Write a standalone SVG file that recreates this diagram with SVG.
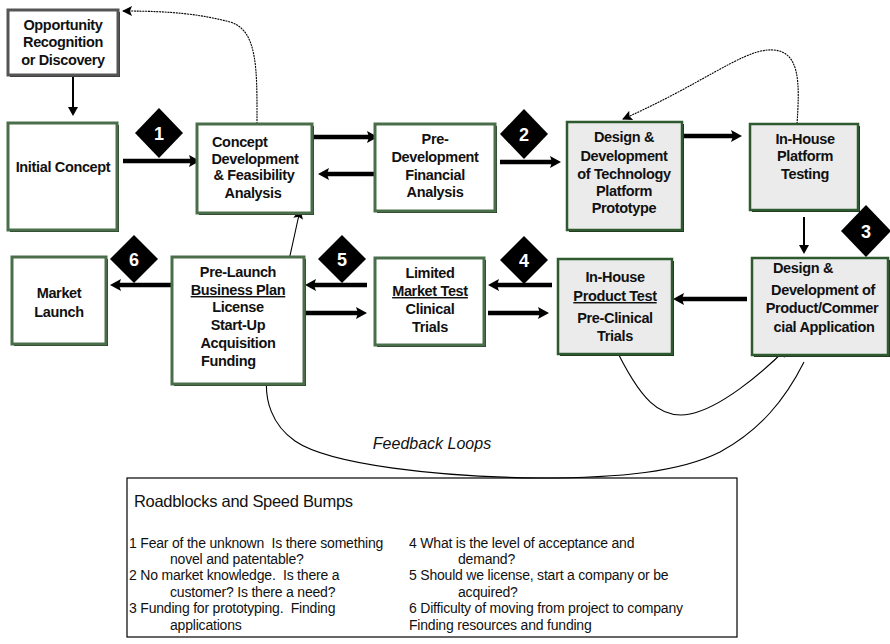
<svg xmlns="http://www.w3.org/2000/svg" width="890" height="644" viewBox="0 0 890 644">
<style>
.t{font-family:"Liberation Sans",Arial,sans-serif;font-weight:bold;font-size:14.5px;fill:#111;text-anchor:middle;letter-spacing:-0.35px}
.tl{text-anchor:start}
.u{text-decoration:underline}
.box{fill:#fff;stroke:#4a6e4a;stroke-width:3}
.gbox{fill:#ebebeb;stroke:#2f5a2f;stroke-width:2.5}
.sh{fill:#223322}
.dia{fill:#000}
.dn{font-family:"Liberation Sans",Arial,sans-serif;font-weight:bold;font-size:18px;fill:#fff;text-anchor:middle}
.thick{stroke:#000;stroke-width:4.5;fill:none;marker-end:url(#ah)}
.thin{stroke:#000;stroke-width:2;fill:none;marker-end:url(#as)}
.fb{stroke:#000;stroke-width:1.1;fill:none;marker-end:url(#af)}
.dot{stroke-dasharray:2 0.8}
.lg{font-family:"Liberation Sans",Arial,sans-serif;font-size:14px;fill:#111;letter-spacing:-0.2px;white-space:pre}
</style>
<defs>
<marker id="ah" markerUnits="userSpaceOnUse" markerWidth="14" markerHeight="14" refX="2" refY="7" orient="auto" overflow="visible">
<path d="M0,1 L11,7 L0,13 L2,7 z" fill="#000"/>
</marker>
<marker id="as" markerUnits="userSpaceOnUse" markerWidth="12" markerHeight="12" refX="2" refY="5" orient="auto" overflow="visible">
<path d="M0,0 L9,5 L0,10 z" fill="#000"/>
</marker>
<marker id="af" markerUnits="userSpaceOnUse" markerWidth="12" markerHeight="12" refX="9" refY="5" orient="auto" overflow="visible">
<path d="M0,0 L10,5 L0,10 L2,5 z" fill="#000"/>
</marker>
</defs>
<rect width="890" height="644" fill="#fff"/>

<g id="connectors">
<path class="thin" d="M73,76 V109"/>
<path class="thick" d="M123,161 H191"/>
<path class="thick" d="M312,137 H369"/>
<path class="thick" d="M378,174 H327"/>
<path class="thick" d="M500,162 H552"/>
<path class="thick" d="M677,136 H733"/>
<path class="thin" d="M804,217 V247"/>
<path class="thick" d="M747,299 H682"/>
<path class="thick" d="M552,285 H497"/>
<path class="thick" d="M488,313 H540"/>
<path class="thick" d="M367,285 H314"/>
<path class="thick" d="M305,313 H358"/>
<path class="thick" d="M172,285 H119"/>
<path class="fb dot" d="M257,124 C257,70 258,30 230,22 C200,14 170,11 123,11"/>
<path class="fb dot" d="M797,124 C800,80 800,48 768,50 C740,52 700,85 623,119"/>
<path class="fb" d="M613,343 C640,400 660,420 690,414 C720,408 760,375 787,348"/>
<path class="fb" d="M804,362 C785,400 760,430 720,452 C680,472 620,478 540,478 C440,477 330,465 295,441 C272,425 264,400 267,375 C270,340 285,280 300,210"/>
</g>

<g id="opportunity">
<rect x="10" y="12" width="110" height="65" fill="#333"/>
<rect x="8" y="10" width="110" height="65" fill="#fff" stroke="#555" stroke-width="3"/>
<text class="t" x="63" y="30">Opportunity</text>
<text class="t" x="63" y="47">Recognition</text>
<text class="t" x="63" y="65">or Discovery</text>
</g>

<g id="initial">
<rect class="sh" x="10" y="125" width="109" height="107"/>
<rect class="box" x="8" y="123" width="109" height="107"/>
<text class="t" x="63" y="172">Initial Concept</text>
</g>

<g id="concept">
<rect class="sh" x="199" y="126" width="115" height="89"/>
<rect class="box" x="197" y="124" width="115" height="89"/>
<text class="t tl" x="212" y="147">Concept</text>
<text class="t" x="255" y="164">Development</text>
<text class="t" x="254" y="180">&amp; Feasibility</text>
<text class="t" x="253" y="198">Analysis</text>
</g>

<g id="predev">
<rect class="sh" x="377" y="126" width="120" height="87"/>
<rect class="box" x="375" y="124" width="120" height="87"/>
<text class="t" x="435" y="144">Pre-</text>
<text class="t" x="435" y="162">Development</text>
<text class="t" x="435" y="180">Financial</text>
<text class="t" x="435" y="197">Analysis</text>
</g>

<g id="designTech">
<rect class="sh" x="569" y="124" width="115" height="108"/>
<rect class="gbox" x="567" y="122" width="115" height="108"/>
<text class="t" x="624" y="142">Design &amp;</text>
<text class="t" x="624" y="161">Development</text>
<text class="t" x="624" y="179">of Technology</text>
<text class="t" x="624" y="196">Platform</text>
<text class="t" x="624" y="213">Prototype</text>
</g>

<g id="inhousePlatform">
<rect class="sh" x="752" y="126" width="108" height="86"/>
<rect class="gbox" x="750" y="124" width="108" height="86"/>
<text class="t" x="805" y="144">In-House</text>
<text class="t" x="805" y="161">Platform</text>
<text class="t" x="805" y="179">Testing</text>
</g>

<g id="designProduct">
<rect class="sh" x="754" y="260" width="136" height="97"/>
<rect class="gbox" x="752" y="258" width="136" height="97"/>
<text class="t tl" x="773" y="273">Design &amp;</text>
<text class="t" x="823" y="295">Development of</text>
<text class="t" x="822" y="313">Product/Commer</text>
<text class="t" x="824" y="332">cial Application</text>
</g>

<g id="inhouseProduct">
<rect class="sh" x="560" y="261" width="114" height="95"/>
<rect class="gbox" x="558" y="259" width="114" height="95"/>
<text class="t" x="615" y="282">In-House</text>
<text class="t u" x="615" y="301">Product Test</text>
<text class="t" x="615" y="323">Pre-Clinical</text>
<text class="t" x="615" y="341">Trials</text>
</g>

<g id="limited">
<rect class="sh" x="377" y="260" width="109" height="87"/>
<rect class="box" x="375" y="258" width="109" height="87"/>
<text class="t" x="430" y="278">Limited</text>
<text class="t u" x="430" y="296">Market Test</text>
<text class="t" x="430" y="314">Clinical</text>
<text class="t" x="430" y="332">Trials</text>
</g>

<g id="prelaunch">
<rect class="sh" x="174" y="259" width="132" height="127"/>
<rect class="box" x="172" y="257" width="132" height="127"/>
<text class="t" x="238" y="277">Pre-Launch</text>
<text class="t u" x="238" y="295">Business Plan</text>
<text class="t" x="238" y="312">License</text>
<text class="t" x="238" y="330">Start-Up</text>
<text class="t" x="238" y="348">Acquisition</text>
<text class="t tl" x="201" y="366">Funding</text>
</g>

<g id="market">
<rect class="sh" x="14" y="259" width="94" height="87"/>
<rect class="box" x="12" y="257" width="94" height="87"/>
<text class="t" x="59" y="298">Market</text>
<text class="t" x="59" y="317">Launch</text>
</g>

<g id="d1"><path class="dia" d="M159,108 L183,133 L159,158 L135,133 z"/><text class="dn" x="159" y="140">1</text></g>
<g id="d2"><path class="dia" d="M524,109 L548,134 L524,159 L500,134 z"/><text class="dn" x="524" y="141">2</text></g>
<g id="d3"><path class="dia" d="M866,205 L891,231 L866,257 L841,231 z"/><text class="dn" x="866" y="238">3</text></g>
<g id="d4"><path class="dia" d="M524,236 L548,260 L524,284 L500,260 z"/><text class="dn" x="524" y="267">4</text></g>
<g id="d5"><path class="dia" d="M342,235 L366,259 L342,283 L318,259 z"/><text class="dn" x="342" y="266">5</text></g>
<g id="d6"><path class="dia" d="M134,235 L158,259 L134,283 L110,259 z"/><text class="dn" x="134" y="266">6</text></g>

<text x="432" y="449" font-family="'Liberation Sans',Arial,sans-serif" font-style="italic" font-size="16" fill="#111" text-anchor="middle">Feedback Loops</text>

<g id="legend">
<rect x="127" y="478" width="610" height="159" fill="none" stroke="#000" stroke-width="1.2"/>
<text x="134" y="507" font-family="'Liberation Sans',Arial,sans-serif" font-size="16.5" fill="#111" letter-spacing="-0.3">Roadblocks and Speed Bumps</text>
<text class="lg" x="129" y="548" xml:space="preserve">1 Fear of the unknown  Is there something</text>
<text class="lg" x="170" y="564">novel and patentable?</text>
<text class="lg" x="129" y="580">2 No market knowledge.  Is there a</text>
<text class="lg" x="170" y="597">customer? Is there a need?</text>
<text class="lg" x="129" y="613" xml:space="preserve">3 Funding for prototyping.  Finding</text>
<text class="lg" x="170" y="630">applications</text>
<text class="lg" x="409" y="548">4 What is the level of acceptance and</text>
<text class="lg" x="458" y="564">demand?</text>
<text class="lg" x="409" y="580">5 Should we license, start a company or be</text>
<text class="lg" x="458" y="597">acquired?</text>
<text class="lg" x="409" y="613">6 Difficulty of moving from project to company</text>
<text class="lg" x="409" y="630">Finding resources and funding</text>
</g>
</svg>
